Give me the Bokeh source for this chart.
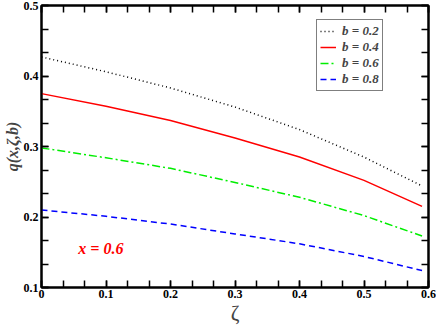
from bokeh.plotting import figure
from bokeh.models import LinearAxis, FixedTicker, Range1d, Legend, LegendItem
from bokeh.core.properties import value
from bokeh.embed import file_html
from bokeh.resources import INLINE

zeta = [0.0, 0.1, 0.2, 0.3, 0.4, 0.5, 0.59]
q_b02 = [0.427, 0.406, 0.383, 0.356, 0.324, 0.285, 0.244]
q_b04 = [0.375, 0.357, 0.337, 0.312, 0.285, 0.252, 0.215]
q_b06 = [0.298, 0.284, 0.269, 0.249, 0.228, 0.202, 0.173]
q_b08 = [0.210, 0.201, 0.190, 0.176, 0.162, 0.144, 0.124]
labels = ["b = 0.2", "b = 0.4", "b = 0.6", "b = 0.8"]
x_ticks = [0, 0.1, 0.2, 0.3, 0.4, 0.5, 0.6]
x_tick_labels = ["0", "0.1", "0.2", "0.3", "0.4", "0.5", "0.6"]
y_ticks = [0.1, 0.2, 0.3, 0.4, 0.5]
y_tick_labels = ["0.1", "0.2", "0.3", "0.4", "0.5"]
annotation = "x = 0.6"

SERIF = "'Liberation Serif', serif"

p = figure(width=436, height=327, output_backend="svg", toolbar_location=None,
           x_range=Range1d(0, 0.6), y_range=Range1d(0.1, 0.5),
           min_border_left=40, min_border_right=8, min_border_top=5, min_border_bottom=37,
           x_axis_label="ζ", y_axis_label="q(x,ζ,b)")
p.grid.visible = False
p.outline_line_color = "black"
p.outline_line_width = 2
p.background_fill_color = "white"
p.border_fill_color = "white"

minor_x = [i / 30 for i in range(0, 19)]
minor_y = [0.1 + i / 30 for i in range(0, 13)]

def style_axis(ax, ticks, minor, overrides, show_labels=True):
    ax.ticker = FixedTicker(ticks=ticks, minor_ticks=minor)
    ax.major_tick_in = 7
    ax.major_tick_out = 0
    ax.minor_tick_in = 7
    ax.minor_tick_out = 0
    ax.major_tick_line_width = 1.5
    ax.minor_tick_line_width = 1.5
    ax.axis_line_width = 2
    ax.major_tick_line_color = "black"
    ax.minor_tick_line_color = "black"
    if show_labels:
        ax.major_label_overrides = overrides
        ax.major_label_text_font = SERIF
        ax.major_label_text_font_style = "bold"
        ax.major_label_text_font_size = "12px"
        ax.major_label_text_color = "black"
    else:
        ax.major_label_text_alpha = 0
        ax.major_label_text_font_size = "1px"

style_axis(p.xaxis[0], x_ticks, minor_x, dict(zip(x_ticks, x_tick_labels)))
style_axis(p.yaxis[0], y_ticks, minor_y, dict(zip(y_ticks, y_tick_labels)))
p.xaxis[0].major_label_standoff = 2
p.yaxis[0].major_label_standoff = 3
p.xaxis[0].axis_label_text_font = SERIF
p.xaxis[0].axis_label_text_font_style = "normal"
p.xaxis[0].axis_label_text_font_size = "21px"
p.xaxis[0].axis_label_standoff = 0
p.yaxis[0].axis_label_text_font = SERIF
p.yaxis[0].axis_label_text_font_style = "bold italic"
p.yaxis[0].axis_label_text_font_size = "16px"
p.yaxis[0].axis_label_standoff = 0

top = LinearAxis()
style_axis(top, x_ticks, minor_x, {}, show_labels=False)
top.major_label_standoff = 0
p.add_layout(top, "above")
right = LinearAxis()
style_axis(right, y_ticks, minor_y, {}, show_labels=False)
right.major_label_standoff = 0
p.add_layout(right, "right")

r1 = p.line(zeta, q_b02, line_color="black", line_width=1.5, line_dash="1 3")
r2 = p.line(zeta, q_b04, line_color="#ff0000", line_width=1.5)
r3 = p.line(zeta, q_b06, line_color="#00ee00", line_width=1.5, line_dash="8 3 2 3")
r4 = p.line(zeta, q_b08, line_color="#0000ff", line_width=1.5, line_dash="6 4")

p.text(x=[0.057], y=[0.156], text=[annotation], text_color="#ff0000",
       text_font=value(SERIF), text_font_style="bold italic", text_font_size="16px",
       text_baseline="middle", text_align="left")

legend = Legend(items=[LegendItem(label=l, renderers=[r]) for l, r in zip(labels, [r1, r2, r3, r4])],
                location=(275, 196))
legend.label_text_font = SERIF
legend.label_text_font_style = "bold italic"
legend.label_text_font_size = "13px"
legend.label_height = 14
legend.glyph_height = 14
legend.glyph_width = 16
legend.spacing = 0
legend.padding = 3
legend.margin = 0
legend.label_standoff = 6
legend.border_line_color = "black"
legend.border_line_width = 1.5
legend.background_fill_alpha = 1
p.add_layout(legend, "center")

open("out.html", "w").write(file_html(p, INLINE))
